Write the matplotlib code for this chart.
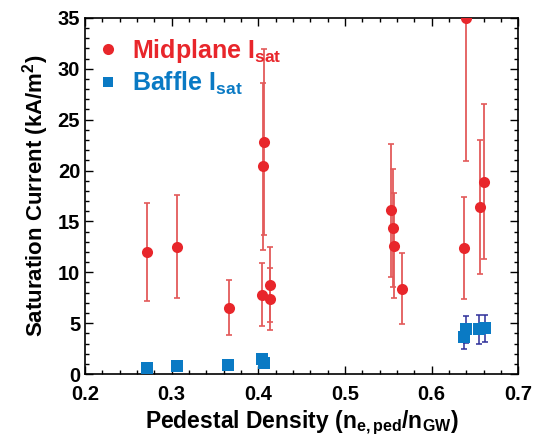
import matplotlib
matplotlib.use("Agg")
import matplotlib.pyplot as plt
from matplotlib.lines import Line2D
from matplotlib.ticker import MultipleLocator

plt.rcParams['font.family'] = ['Liberation Sans', 'DejaVu Sans']
plt.rcParams['font.weight'] = 'bold'
plt.rcParams['mathtext.fontset'] = 'custom'
plt.rcParams['mathtext.rm'] = 'Liberation Sans:bold'
plt.rcParams['mathtext.bf'] = 'Liberation Sans:bold'
plt.rcParams['mathtext.it'] = 'Liberation Sans:bold'

# Midplane Isat
mid_x = [0.272, 0.306, 0.366, 0.404, 0.405, 0.407, 0.413, 0.413,
         0.553, 0.555, 0.557, 0.566, 0.638, 0.640, 0.656, 0.661]
mid_y = [12.0, 12.5, 6.5, 7.8, 20.4, 22.8, 8.8, 7.4,
         16.1, 14.4, 12.6, 8.4, 12.4, 35.0, 16.4, 18.9]
mid_err = [4.8, 5.05, 2.7, 3.1, 8.2, 9.1, 3.65, 3.05,
           6.55, 5.8, 5.15, 3.45, 5.0, 14.1, 6.6, 7.6]

# Baffle Isat
baf_x = [0.272, 0.306, 0.365, 0.404, 0.406, 0.637, 0.640, 0.655, 0.662]
baf_y = [0.55, 0.8, 0.9, 1.5, 1.05, 3.6, 4.4, 4.4, 4.5]
baf_err = [0.0, 0.0, 0.0, 0.0, 0.0, 1.1, 1.3, 1.4, 1.35]

x_ticks = [0.2, 0.3, 0.4, 0.5, 0.6, 0.7]
y_ticks = [0, 5, 10, 15, 20, 25, 30, 35]

red = '#E8262B'
red_err = '#E35A5A'
blue = '#0A7AC4'
navy = '#2E2F9A'

fig = plt.figure(figsize=(5.42, 4.36), dpi=100)
ax = fig.add_axes([0.157, 0.142, 0.799, 0.817])

ax.errorbar(mid_x, mid_y, yerr=mid_err, fmt='none', ecolor=red_err,
            elinewidth=1.3, capsize=2.5, capthick=1.2, zorder=2)
ax.plot(mid_x, mid_y, 'o', color=red, markersize=8, markeredgewidth=0, zorder=3)

ax.errorbar(baf_x, baf_y, yerr=baf_err, fmt='none', ecolor=navy,
            elinewidth=1.1, capsize=2.5, capthick=1.1, zorder=2)
ax.plot(baf_x, baf_y, 's', color=blue, markersize=8, markeredgewidth=0, zorder=3)

ax.set_xlim(0.2, 0.7)
ax.set_ylim(0, 35)
ax.set_xticks(x_ticks)
ax.set_xticklabels([f'{v:.1f}' for v in x_ticks], fontweight='bold')
ax.set_yticks(y_ticks)
ax.set_yticklabels([str(v) for v in y_ticks], fontweight='bold')
ax.xaxis.set_minor_locator(MultipleLocator(0.02))
ax.yaxis.set_minor_locator(MultipleLocator(1))
ax.tick_params(which='both', direction='in', top=True, right=True, width=1.0)
ax.tick_params(which='major', length=6, labelsize=14.5)
ax.tick_params(axis='x', which='major', pad=8)
ax.tick_params(which='minor', length=3)
for s in ax.spines.values():
    s.set_linewidth(1.2)

ax.set_xlabel(r'Pedestal Density (n$_{\mathbf{e,ped}}$/n$_{\mathbf{GW}}$)',
              fontsize=16.5, fontweight='bold', labelpad=3)
ax.set_ylabel(r'Saturation Current (kA/m$^{\mathbf{2}}$)',
              fontsize=16, fontweight='bold', labelpad=5)

handles = [Line2D([], [], marker='o', linestyle='none', color=red, markersize=8, markeredgewidth=0),
           Line2D([], [], marker='s', linestyle='none', color=blue, markersize=7, markeredgewidth=0)]
labels = [r'Midplane I$_{\mathbf{sat}}$', r'Baffle I$_{\mathbf{sat}}$']
leg = ax.legend(handles, labels, loc='upper left', bbox_to_anchor=(-0.04, 1.01),
                frameon=False, fontsize=18, handletextpad=0.25, handlelength=1.4,
                labelspacing=0.2, labelcolor=[red, blue])

fig.savefig('out.png', dpi=100)
